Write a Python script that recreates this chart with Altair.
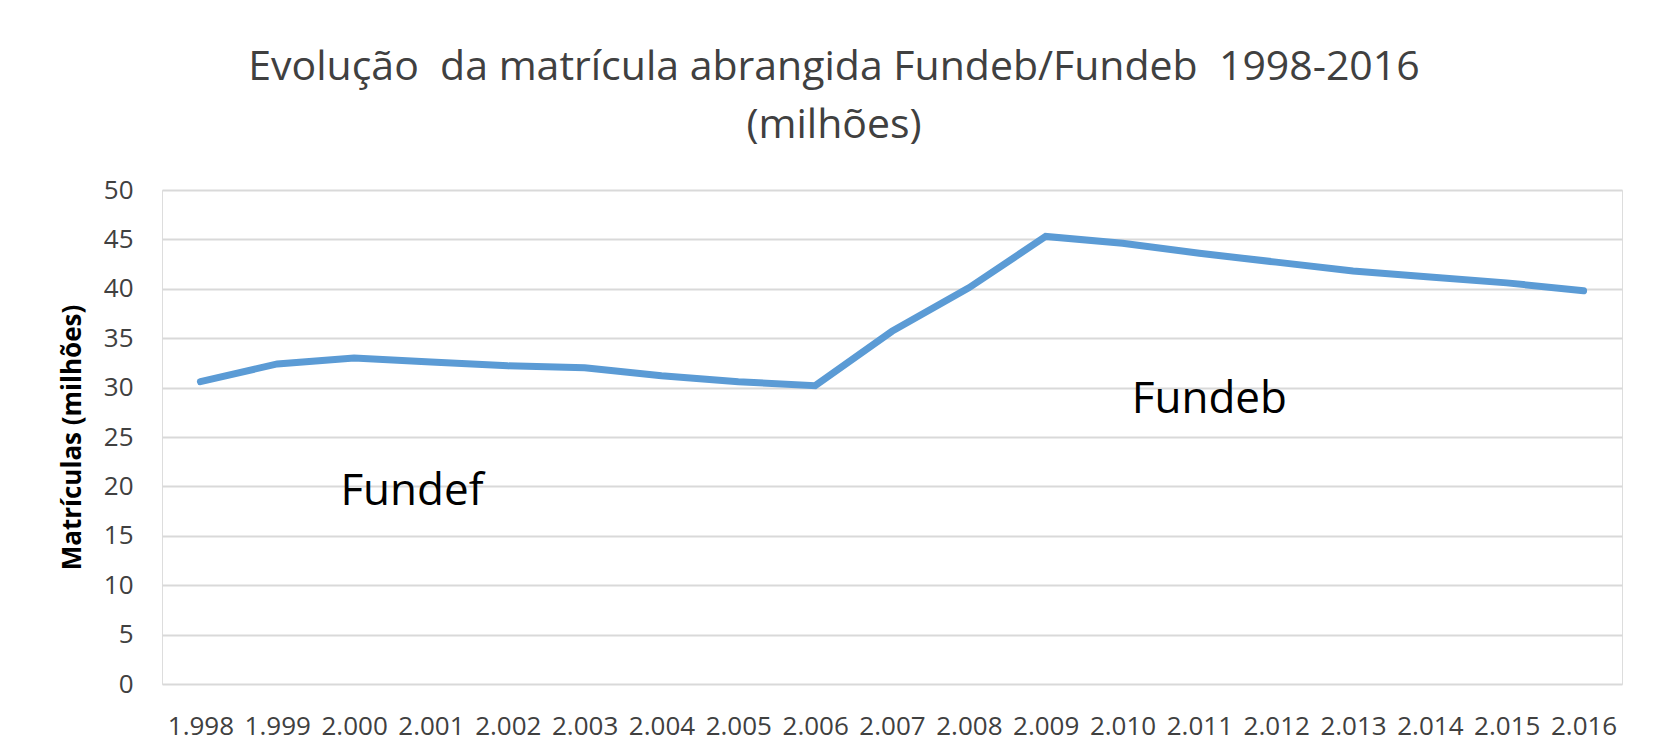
import altair as alt
import pandas as pd

years = ["1.998", "1.999", "2.000", "2.001", "2.002", "2.003", "2.004", "2.005", "2.006", "2.007",
         "2.008", "2.009", "2.010", "2.011", "2.012", "2.013", "2.014", "2.015", "2.016"]
matriculas = [30.6, 32.4, 33.0, 32.6, 32.2, 32.0, 31.2, 30.6, 30.2, 35.7,
              40.1, 45.3, 44.6, 43.6, 42.7, 41.8, 41.2, 40.6, 39.8]

ann_labels = ["Fundef", "Fundeb"]
ann_x = ["2.001", "2.011"]
ann_y = [18.1, 27.4]
ann_dx = [-19, 10]

title_lines = ["Evolução\u00a0 da matrícula abrangida Fundeb/Fundeb\u00a0 1998-2016", "(milhões)"]

df = pd.DataFrame({"ano": years, "valor": matriculas})
ann = pd.DataFrame({"label": ann_labels, "ano": ann_x, "valor": ann_y, "dx": ann_dx})

FONT = "Open Sans"

x_enc = alt.X("ano:O", sort=years,
              axis=alt.Axis(title=None, labelAngle=0, labelFontSize=26, labelColor="#404040",
                            labelFont=FONT, ticks=False, tickSize=0, domain=False, grid=False,
                            labelPadding=29, labelOverlap=False))
y_enc = alt.Y("valor:Q", scale=alt.Scale(domain=[0, 50], nice=False),
              axis=alt.Axis(title="Matrículas (milhões)", values=list(range(0, 55, 5)),
                            labelFontSize=26, labelColor="#404040", labelFont=FONT,
                            ticks=False, tickSize=0, domain=False, labelPadding=29,
                            gridColor="#d9d9d9", gridWidth=2,
                            titleFont=FONT, titleFontSize=26, titleFontWeight="bold",
                            titleColor="#000000", titleAngle=270, titleX=-90, titleY=247,
                            titleAlign="center", titleBaseline="middle"))

line = alt.Chart(df).mark_line(color="#5b9bd5", strokeWidth=7, strokeCap="round",
                               strokeJoin="miter").encode(x=x_enc, y=y_enc)

text_f = alt.Chart(ann[ann.label == "Fundef"]).mark_text(
    font=FONT, fontSize=44, color="#000000", baseline="alphabetic", align="center", dx=ann_dx[0]
).encode(x=alt.X("ano:O", sort=years), y="valor:Q", text="label:N")
text_b = alt.Chart(ann[ann.label == "Fundeb"]).mark_text(
    font=FONT, fontSize=44, color="#000000", baseline="alphabetic", align="center", dx=ann_dx[1]
).encode(x=alt.X("ano:O", sort=years), y="valor:Q", text="label:N")

chart = alt.layer(line, text_f, text_b).properties(
    width=1460, height=494,
    title=alt.TitleParams(
        text=title_lines,
        font=FONT, fontSize=41, fontWeight="normal", color="#404040",
        anchor="middle", frame="group", dx=-58, lineHeight=58, offset=30
    ),
    autosize=alt.AutoSizeParams(type="none"),
    padding={"left": 154, "top": 182, "right": 27, "bottom": 62},
).configure_view(stroke=None).configure(background="white")

chart.save("out.html", embed_options={"renderer": "svg", "actions": False})
